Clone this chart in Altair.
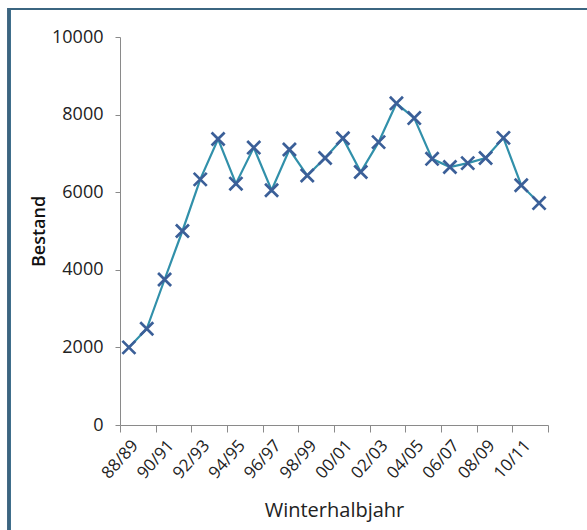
import altair as alt
import pandas as pd

winters = ["88/89", "89/90", "90/91", "91/92", "92/93", "93/94", "94/95", "95/96",
           "96/97", "97/98", "98/99", "99/00", "00/01", "01/02", "02/03", "03/04",
           "04/05", "05/06", "06/07", "07/08", "08/09", "09/10", "10/11", "11/12"]
bestand = [2000, 2480, 3750, 5000, 6330, 7370, 6220, 7150,
           6050, 7100, 6430, 6880, 7390, 6520, 7290, 8290,
           7910, 6860, 6650, 6750, 6880, 7400, 6180, 5720]
y_ticks = [0, 2000, 4000, 6000, 8000, 10000]

df = pd.DataFrame({"Winter": winters, "Bestand": bestand, "idx": list(range(len(winters)))})

n = len(winters)
label_values = [i + 0.5 for i in range(0, n, 2)]
tick_values = list(range(0, n + 1, 2))
label_array = "[" + ",".join("'" + w + "'" for w in winters) + "]"

FONT = "Open Sans"
AX = "#8a8a8a"

base = alt.Chart(df).transform_calculate(pos="datum.idx + 0.5")

xscale = alt.Scale(domain=[0, n], nice=False, zero=False)
yscale = alt.Scale(domain=[0, 10000], nice=False)

yaxis = alt.Axis(values=y_ticks, grid=False, title="Bestand", tickSize=5, format="d",
                 tickColor=AX, domainColor=AX, labelFont=FONT, labelFontSize=18,
                 labelColor="#222222", labelPadding=12,
                 titleFont=FONT, titleFontSize=18, titleFontWeight=600,
                 titleColor="#111111", titlePadding=3)

line = base.mark_line(color="#3190aa", strokeWidth=2.2).encode(
    x=alt.X("pos:Q", scale=xscale,
            axis=alt.Axis(orient="bottom", values=tick_values, labels=False, title=None,
                          grid=False, tickSize=7, tickColor=AX, domainColor=AX)),
    y=alt.Y("Bestand:Q", scale=yscale, axis=yaxis),
)

points = base.mark_point(shape="M-1,-1L1,1M-1,1L1,-1", size=170, filled=False,
                         color="#3b5f98", strokeWidth=2.7, opacity=1).encode(
    x=alt.X("pos:Q", scale=xscale,
            axis=alt.Axis(orient="bottom", values=label_values, ticks=False, domain=False,
                          grid=False,
                          labelExpr=label_array + "[floor(datum.value)]",
                          labelAngle=-48, labelAlign="right", labelBaseline="top",
                          labelFont=FONT, labelFontSize=17, labelColor="#222222",
                          labelPadding=12, labelOverlap=False,
                          title="Winterhalbjahr", titleFont=FONT, titleFontSize=20,
                          titleFontWeight="normal", titleColor="#222222", titlePadding=19)),
    y=alt.Y("Bestand:Q", scale=yscale, axis=yaxis),
)

border = alt.Chart(df).mark_rect(fill=None, stroke="#3b6580", strokeWidth=2.2).encode(
    x=alt.value(-111), x2=alt.value(470), y=alt.value(-28), y2=alt.value(520)
)

chart = alt.layer(border, line, points).resolve_axis(x="independent").properties(
    width=428, height=388,
    autosize=alt.AutoSizeParams(type="none"),
    padding={"left": 120, "top": 37, "right": 39, "bottom": 105},
    background="white",
).configure_view(stroke=None)

chart.save("out.html", embed_options={"renderer": "svg", "actions": False})
